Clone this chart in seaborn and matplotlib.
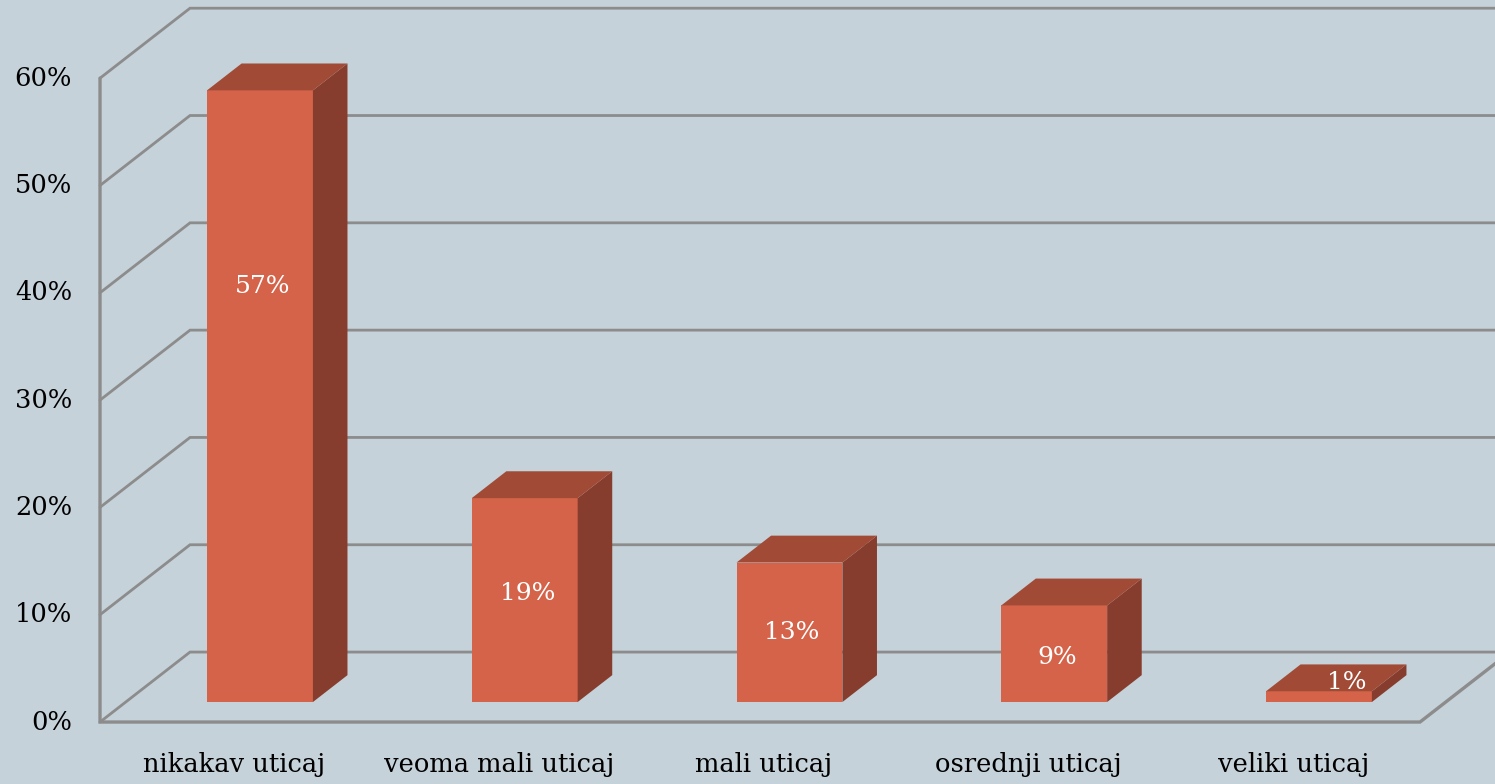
import pandas as pd
import seaborn as sns
import matplotlib.pyplot as plt
from matplotlib.patches import Polygon

categories = ['nikakav uticaj', 'veoma mali uticaj', 'mali uticaj', 'osrednji uticaj', 'veliki uticaj']
shares = [57, 19, 13, 9, 1]
ticks = [0, 10, 20, 30, 40, 50, 60]

BG = '#c6d2d9'
FRONT = '#d4634a'
SIDE = '#873d2e'
TOP = '#a14b37'
GRID = '#8c8c8c'

# fake 3d: depth vector of the whole floor in data units, bars sit between Z_BAR and Z_BACK
DX, DY = 0.34, 6.52
Z_BAR, Z_BACK = 0.286, 0.67
X_LEFT, X_RIGHT = -0.507, 4.479


def proj(x, v, z):
    return x + (z - Z_BAR) * DX, v + (z - Z_BAR) * DY


sns.set_theme(style='white', rc={'figure.facecolor': BG, 'axes.facecolor': BG})
plt.rcParams['font.family'] = ['DejaVu Serif']

fig = plt.figure(figsize=(14.95, 7.84), dpi=100)
ax = fig.add_axes([0, 0, 1, 1])

df = pd.DataFrame({'cat': categories, 'share': shares})
sns.barplot(data=df, x='cat', y='share', color=FRONT, saturation=1, width=0.4,
            ax=ax, zorder=3, linewidth=0)

# walls: back wall grid + left wall diagonals
for t in ticks:
    pts = [proj(X_LEFT, t, 0), proj(X_LEFT, t, 1), proj(X_RIGHT + 0.2, t, 1)]
    ax.plot([p[0] for p in pts], [p[1] for p in pts], color=GRID, lw=2, zorder=1,
            solid_joinstyle='miter')
    lx, ly = proj(X_LEFT, t, 0)
    ax.text(lx - 0.106, ly, f'{t}%', ha='right', va='center', fontsize=18.5, color='black')

# front left axis and floor edges
pts = [proj(X_LEFT, ticks[-1], 0), proj(X_LEFT, 0, 0), proj(X_RIGHT, 0, 0), proj(X_RIGHT, 0, 1)]
ax.plot([p[0] for p in pts], [p[1] for p in pts], color=GRID, lw=2.4, zorder=2,
        solid_joinstyle='miter')

# side and top faces of the bars
s = Z_BACK - Z_BAR
ddx, ddy = s * DX, s * DY
for p in ax.patches[:len(shares)]:
    x0, w, h = p.get_x(), p.get_width(), p.get_height()
    side = [(x0 + w, 0), (x0 + w, h), (x0 + w + ddx, h + ddy), (x0 + w + ddx, ddy)]
    top = [(x0, h), (x0 + w, h), (x0 + w + ddx, h + ddy), (x0 + ddx, h + ddy)]
    ax.add_patch(Polygon(side, closed=True, facecolor=SIDE, edgecolor='none', zorder=3))
    ax.add_patch(Polygon(top, closed=True, facecolor=TOP, edgecolor='none', zorder=3))

# value labels
for i, v in enumerate(shares):
    if v >= 3:
        ax.text(i + 0.01, v / 2 + v ** 2 / 300 - 0.6, f'{v}%', ha='center', va='center',
                fontsize=18, color='white', zorder=4)
    else:
        ax.text(i + ddx / 2 + 0.04, v + ddy / 2 - 0.4, f'{v}%', ha='center', va='center',
                fontsize=18, color='white', zorder=4)

# category labels under the front floor edge
for i, c in enumerate(categories):
    lx, ly = proj(i, -4, 0)
    ax.text(lx, ly, c, ha='center', va='center', fontsize=18.5, color='black')

ax.set_xlim(-0.982, 4.665)
ax.set_ylim(-7.64, 65.42)
ax.axis('off')

fig.savefig('out.png', dpi=100, facecolor=BG)
